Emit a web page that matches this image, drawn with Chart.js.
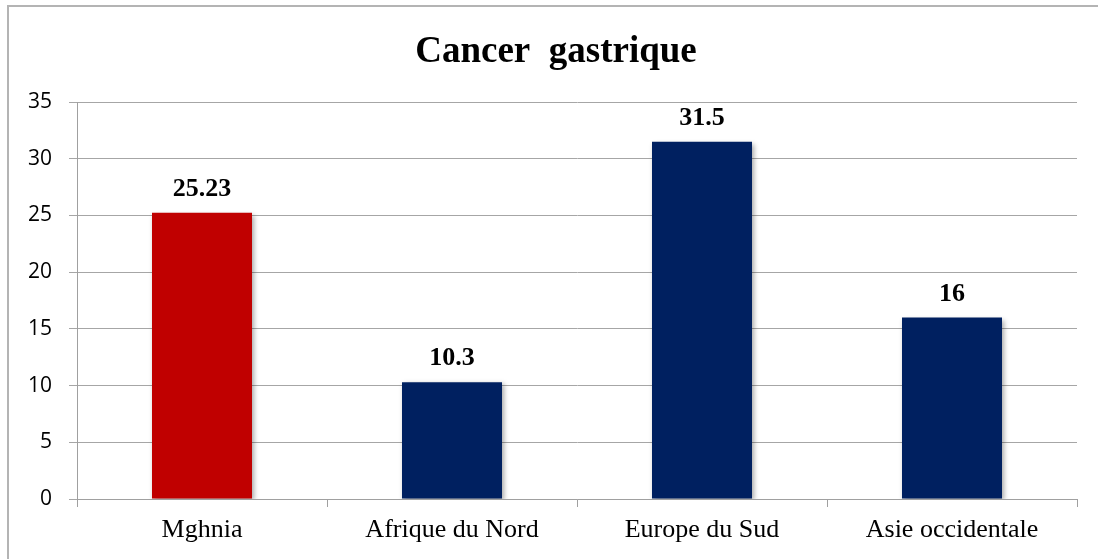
<!DOCTYPE html>
<html>
<head>
<meta charset="utf-8">
<script src="https://cdn.jsdelivr.net/npm/chart.js@4"></script>
<style>
    html, body { margin: 0; padding: 0; background: #fff; overflow: hidden; }
    #cadre {
        position: absolute;
        left: 7px; top: 5px;
        width: 1110px; height: 570px;
        border: 2px solid #b4b4b4;
    }
    #wrap { position: absolute; left: 0; top: 0; width: 1098px; height: 559px; }
</style>
</head>
<body>
<div id="cadre"></div>
<div id="wrap"><canvas id="chart"></canvas></div>
<script>
// Chart data
const chartTitle = 'Cancer  gastrique';
const regions = ['Mghnia', 'Afrique du Nord', 'Europe du Sud', 'Asie occidentale'];
const incidence = [25.23, 10.3, 31.5, 16];
const valueLabels = ['25.23', '10.3', '31.5', '16'];
const barColors = ['#C00000', '#002060', '#002060', '#002060'];
const yMin = 0, yMax = 35, yStep = 5;

document.addEventListener('DOMContentLoaded', function() {
    const ctx = document.getElementById('chart').getContext('2d');

    // shadow behind the bars
    const barShadow = {
        id: 'barShadow',
        beforeDatasetsDraw(chart) {
            const c = chart.ctx;
            c.save();
            c.shadowColor = 'rgba(0,0,0,0.35)';
            c.shadowBlur = 5;
            c.shadowOffsetX = 2;
            c.shadowOffsetY = 2;
        },
        afterDatasetsDraw(chart) {
            chart.ctx.restore();
        }
    };

    // value labels above the bars
    const valueLabelPlugin = {
        id: 'valueLabels',
        afterDatasetsDraw(chart) {
            const c = chart.ctx;
            const meta = chart.getDatasetMeta(0);
            c.save();
            c.font = 'bold 26px "Liberation Serif", "Times New Roman", serif';
            c.fillStyle = '#000';
            c.textAlign = 'center';
            c.textBaseline = 'alphabetic';
            meta.data.forEach((bar, i) => {
                c.fillText(valueLabels[i], bar.x, bar.y - 17);
            });
            c.restore();
        }
    };

    // title centred on the frame
    const titlePlugin = {
        id: 'titre',
        afterDraw(chart) {
            const c = chart.ctx;
            c.save();
            c.font = 'bold 37px "Liberation Serif", "Times New Roman", serif';
            c.fillStyle = '#000';
            c.textAlign = 'center';
            c.textBaseline = 'alphabetic';
            c.fillText(chartTitle, 556, 62);
            c.restore();
        }
    };

    new Chart(ctx, {
        type: 'bar',
        data: {
            labels: regions,
            datasets: [{
                data: incidence,
                backgroundColor: barColors,
                borderWidth: 0,
                barPercentage: 0.4,
                categoryPercentage: 1.0
            }]
        },
        options: {
            responsive: true,
            maintainAspectRatio: false,
            animation: false,
            layout: { padding: { top: 102, right: 21, left: 0, bottom: 0 } },
            plugins: {
                legend: { display: false },
                title: { display: false },
                tooltip: { enabled: false }
            },
            scales: {
                x: {
                    afterFit(scale) { scale.height = 60; },
                    grid: {
                        drawOnChartArea: false,
                        drawTicks: true,
                        tickLength: 8,
                        color: '#a0a0a0'
                    },
                    border: { color: '#a0a0a0', width: 1 },
                    ticks: {
                        padding: 8,
                        color: '#000',
                        font: { family: '"Liberation Serif", "Times New Roman", serif', size: 26 }
                    }
                },
                y: {
                    min: yMin,
                    max: yMax,
                    afterFit(scale) { scale.width = 77; },
                    grid: {
                        color: '#a6a6a6',
                        tickLength: 8
                    },
                    border: { color: '#a0a0a0', width: 1 },
                    ticks: {
                        stepSize: yStep,
                        padding: 17,
                        color: '#000',
                        font: { family: '"Open Sans", "Liberation Sans", sans-serif', size: 21 }
                    }
                }
            }
        },
        plugins: [barShadow, valueLabelPlugin, titlePlugin]
    });
});
</script>
</body>
</html>
